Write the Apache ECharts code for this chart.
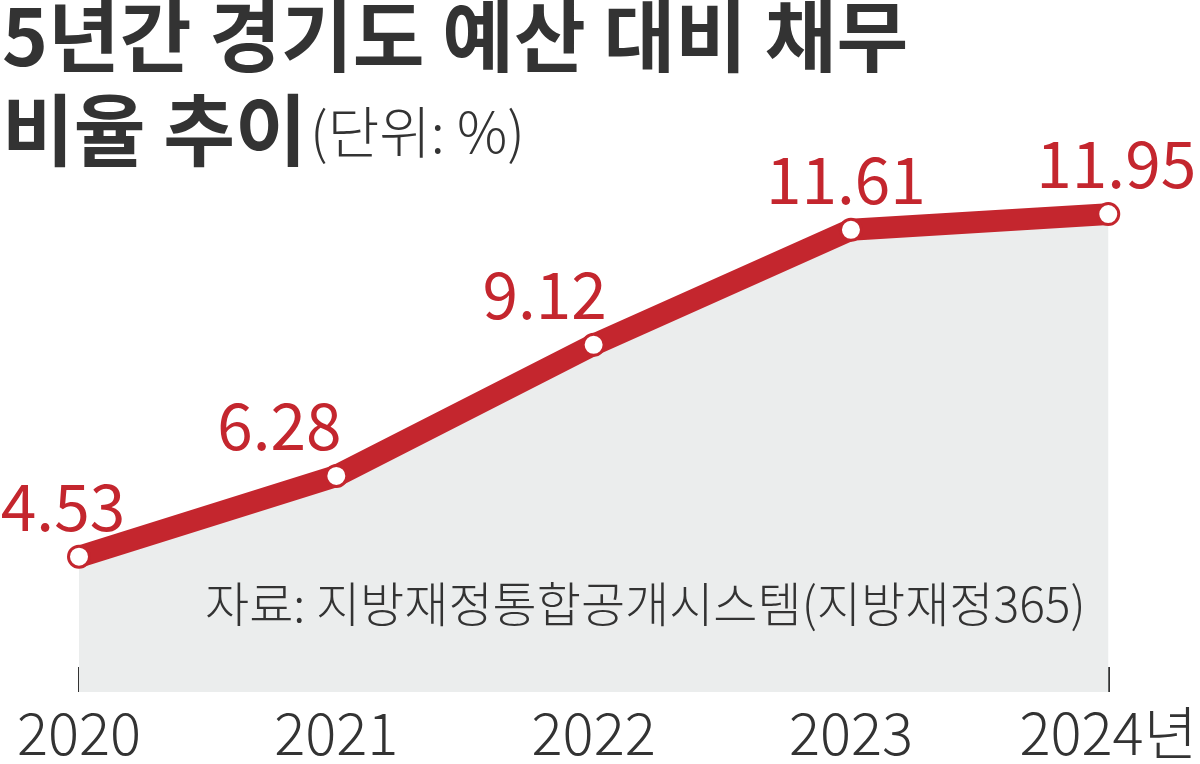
<!DOCTYPE html>
<html>
<head>
<meta charset="utf-8">
<script src="https://cdn.jsdelivr.net/npm/echarts@6/dist/echarts.min.js"></script>
<style>
html,body{margin:0;padding:0;background:#fff;}
#c{width:1200px;height:764px;}
</style>
</head>
<body>
<div id="c"></div>
<script>
const categories = ['2020', '2021', '2022', '2023', '2024'];
const tickLabels = ['2020', '2021', '2022', '2023', '2024년'];
const values = [4.53, 6.28, 9.12, 11.61, 11.95];
const titleLine1 = '5년간 경기도 예산 대비 채무';
const titleLine2 = '비율 추이';
const unitText = '(단위: %)';
const sourceText = '자료: 지방재정통합공개시스템(지방재정365)';

const RED = '#c4262e';
const DARK = '#333333';
const FONT = '"Noto Sans CJK KR", "Noto Sans", sans-serif';
const labelOffsets = [[-16, 0], [-57, 0], [-49, 0], [-5, 0], [8, 0]];

const chart = echarts.init(document.getElementById('c'));
chart.setOption({
  backgroundColor: '#ffffff',
  animation: false,
  grid: { left: 79, right: 90, top: 101, bottom: 72 },
  xAxis: {
    type: 'category',
    data: categories,
    boundaryGap: false,
    axisLine: { show: false },
    axisTick: { show: true, inside: true, length: 25, lineStyle: { color: DARK, width: 2 } },
    axisLabel: {
      margin: 12,
      fontFamily: FONT,
      fontSize: 58,
      fontWeight: 300,
      color: DARK,
      formatter: (v, i) => tickLabels[i]
    },
    splitLine: { show: false }
  },
  yAxis: { type: 'value', min: 1.6, max: 14.4, show: false },
  graphic: [
    { type: 'text', z: 100, left: 2, top: -3, style: { text: titleLine1, font: 'bold 78px ' + FONT, fill: DARK } },
    { type: 'text', z: 100, left: 2, top: 91, style: { text: titleLine2, font: 'bold 78px ' + FONT, fill: DARK } },
    { type: 'text', z: 100, left: 310, top: 104, style: { text: unitText, font: '300 56px ' + FONT, fill: DARK } },
    { type: 'text', z: 100, left: 205, top: 580, style: { text: sourceText, font: '300 48px ' + FONT, fill: DARK } }
  ],
  series: [{
    type: 'line',
    data: values.map((v, i) => ({
      value: v,
      label: { offset: labelOffsets[i] }
    })),
    z: 3,
    symbol: 'circle',
    symbolSize: 21,
    showAllSymbol: true,
    itemStyle: { color: '#ffffff', borderColor: RED, borderWidth: 3 },
    lineStyle: { color: RED, width: 22, cap: 'round', join: 'round' },
    areaStyle: { color: '#ebeded', opacity: 1, origin: 'start' },
    label: {
      show: true,
      position: 'top',
      distance: 6,
      fontFamily: FONT,
      fontSize: 64,
      color: RED,
      formatter: p => p.value.toFixed(2)
    }
  }]
});
</script>
</body>
</html>
